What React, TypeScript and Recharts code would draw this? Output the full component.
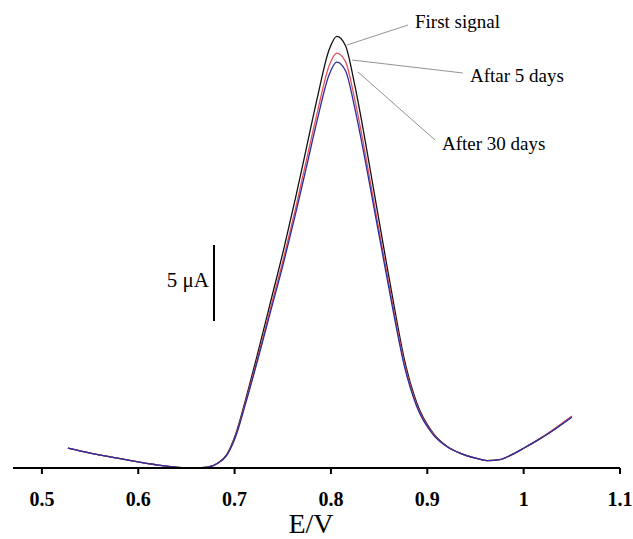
import React from 'react';
import { LineChart, Line, XAxis, YAxis } from 'recharts';

// potential (V) and current (µA above baseline)
const potentials = [0.527, 0.55, 0.575, 0.6, 0.625, 0.645, 0.66, 0.672, 0.682, 0.692, 0.701, 0.711, 0.725, 0.738, 0.751, 0.763, 0.774, 0.786, 0.798, 0.806, 0.815, 0.825, 0.837, 0.846, 0.857, 0.866, 0.876, 0.889, 0.906, 0.92, 0.935, 0.95, 0.962, 0.975, 0.99, 1.0, 1.015, 1.03, 1.05];
const firstSignal = [1.3, 0.98, 0.68, 0.4, 0.16, 0.03, 0, 0.05, 0.3, 0.9, 2.2, 4.4, 7.8, 11.1, 14.4, 17.7, 20.9, 24.4, 27.5, 28.4, 27.8, 25.1, 21.0, 17.7, 13.7, 10.5, 7.2, 4.3, 2.3, 1.45, 0.95, 0.65, 0.48, 0.55, 0.95, 1.3, 1.85, 2.45, 3.35];
const after5Days = [1.3, 0.98, 0.68, 0.4, 0.16, 0.03, 0, 0.05, 0.3, 0.87, 2.1, 4.25, 7.5, 10.7, 13.85, 17.0, 20.1, 23.45, 26.45, 27.3, 26.75, 24.15, 20.2, 17.0, 13.2, 10.1, 6.95, 4.15, 2.25, 1.43, 0.95, 0.65, 0.48, 0.55, 0.95, 1.3, 1.87, 2.5, 3.42];
const after30Days = [1.3, 0.98, 0.68, 0.4, 0.16, 0.03, 0, 0.05, 0.3, 0.85, 2.05, 4.15, 7.35, 10.45, 13.55, 16.65, 19.65, 22.95, 25.85, 26.7, 26.15, 23.6, 19.75, 16.65, 12.9, 9.85, 6.75, 4.05, 2.2, 1.42, 0.95, 0.65, 0.48, 0.55, 0.95, 1.3, 1.85, 2.45, 3.35];
const xTicks = [0.5, 0.6, 0.7, 0.8, 0.9, 1, 1.1];

const data = potentials.map((e, i) => ({
  e,
  first: firstSignal[i],
  d5: after5Days[i],
  d30: after30Days[i],
}));

const serif = '"Liberation Serif", "Times New Roman", serif';

function SerifTick(props: any) {
  const { x, y, payload } = props;
  return (
    <text x={x} y={y + 32} textAnchor="middle" fontFamily={serif} fontSize={20} fontWeight={700} fill="#000">
      {String(payload.value)}
    </text>
  );
}

export default function App() {
  return (
    <div style={{ position: 'absolute', left: 0, top: 0, width: 633, height: 539, background: '#fff' }}>
      <LineChart width={633} height={539} data={data} margin={{ top: 12, right: 13, left: 13, bottom: 0 }}>
        <XAxis
          dataKey="e" type="number" domain={[0.47, 1.1]} ticks={xTicks} allowDataOverflow
          height={71} tickSize={6} tickMargin={0}
          axisLine={{ stroke: '#000', strokeWidth: 2 }}
          tickLine={{ stroke: '#000', strokeWidth: 2 }}
          tick={<SerifTick />}
        />
        <YAxis hide domain={[0, 30]} />
        <Line type="monotone" dataKey="first" stroke="#111" strokeWidth={1.3} dot={false} isAnimationActive={false} />
        <Line type="monotone" dataKey="d5" stroke="#e8505a" strokeWidth={1.3} dot={false} isAnimationActive={false} />
        <Line type="monotone" dataKey="d30" stroke="#2c2c9e" strokeWidth={1.3} dot={false} isAnimationActive={false} />
      </LineChart>
      <svg width={633} height={539} style={{ position: 'absolute', left: 0, top: 0, pointerEvents: 'none' }}>
        <g fontFamily={serif} fill="#000">
          {/* leader lines */}
          <line x1={347} y1={45} x2={408} y2={25} stroke="#777" strokeWidth={0.8} />
          <line x1={352} y1={60} x2={463} y2={73} stroke="#777" strokeWidth={0.8} />
          <line x1={358} y1={72} x2={435} y2={140} stroke="#777" strokeWidth={0.8} />
          <text x={415} y={28} fontSize={19}>First signal</text>
          <text x={470} y={82} fontSize={19}>Aftar 5 days</text>
          <text x={442} y={150} fontSize={19}>After 30 days</text>
          {/* scale bar */}
          <line x1={214} y1={245} x2={214} y2={321} stroke="#000" strokeWidth={2} />
          <text x={209} y={287} fontSize={21} textAnchor="end">5 μA</text>
          <text x={311} y={533} fontSize={28} textAnchor="middle">E/V</text>
        </g>
      </svg>
    </div>
  );
}
